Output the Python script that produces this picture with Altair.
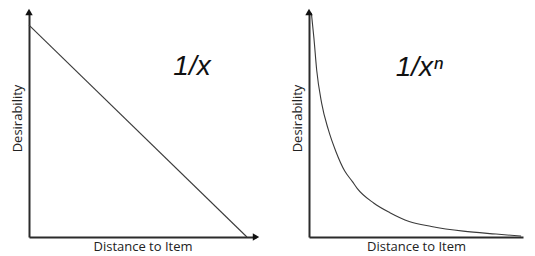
import altair as alt
import pandas as pd

# Left panel: linear decline ("1/x")
left_x = [0.0, 9.6]
left_y = [9.42, 0.0]

# Right panel: steep decay curve ("1/x^n")
right_x = [0.11, 0.23, 0.36, 0.59, 0.90, 1.26, 1.67, 2.03, 2.25, 3.02, 3.78, 4.68, 5.72, 7.21, 8.74, 9.91]
right_y = [9.96, 8.84, 7.41, 5.95, 4.78, 3.79, 2.93, 2.46, 2.16, 1.51, 1.08, 0.69, 0.47, 0.26, 0.13, 0.04]

x_title = "Distance to Item"
y_title = "Desirability"
left_label = "1/x"
right_label = "1/x\u207f"
left_label_pos = (7.18, 7.56)
right_label_pos = (5.16, 7.5)

AXIS_MAX = 10

ink = "#2b2b2b"


def panel(xs, ys, label, label_pos, width, x_arrow=True):
    line_df = pd.DataFrame({"x": xs, "y": ys})
    xs_scale = alt.Scale(domain=[0, AXIS_MAX], nice=False, zero=True)
    ys_scale = alt.Scale(domain=[0, AXIS_MAX], nice=False, zero=True)
    x_axis = alt.Axis(title=x_title, ticks=False, labels=False, grid=False,
                      domainColor=ink, domainWidth=2, titleFont="Open Sans",
                      titleFontWeight="normal", titleFontSize=13, titleColor="#222",
                      titlePadding=3)
    y_axis = alt.Axis(title=y_title, ticks=False, labels=False, grid=False,
                      domainColor=ink, domainWidth=2, titleFont="Open Sans",
                      titleFontWeight="normal", titleFontSize=13, titleColor="#222",
                      titlePadding=5, titleY=106)
    line = alt.Chart(line_df).mark_line(color="#3a3a3a", strokeWidth=1.1,
                                        interpolate="monotone").encode(
        x=alt.X("x:Q", scale=xs_scale, axis=x_axis),
        y=alt.Y("y:Q", scale=ys_scale, axis=y_axis),
    )
    arrows = [{"x": 0, "y": AXIS_MAX, "shape": "triangle-up"}]
    if x_arrow:
        arrows.append({"x": AXIS_MAX, "y": 0, "shape": "triangle-right"})
    arrow = alt.Chart(pd.DataFrame(arrows)).mark_point(
        filled=True, color="#111", size=55, opacity=1).encode(
        x="x:Q", y="y:Q",
        shape=alt.Shape("shape:N", scale=None),
    )
    text = alt.Chart(pd.DataFrame({"x": [label_pos[0]], "y": [label_pos[1]], "t": [label]})).mark_text(
        font="Liberation Sans", fontStyle="italic", fontSize=28, color="#111",
        align="center", baseline="middle").encode(
        x="x:Q", y="y:Q", text="t:N")
    return alt.layer(line, arrow, text).properties(width=width, height=225)


left = panel(left_x, left_y, left_label, left_label_pos, 227)
right = panel(right_x, right_y, right_label, right_label_pos, 214, x_arrow=False)

chart = alt.hconcat(left, right, spacing=31).properties(
    padding={"left": 3, "top": 0, "right": 0, "bottom": 1}, background="white"
).configure_view(stroke=None)

chart.save("out.html", embed_options={"renderer": "svg", "actions": False})
